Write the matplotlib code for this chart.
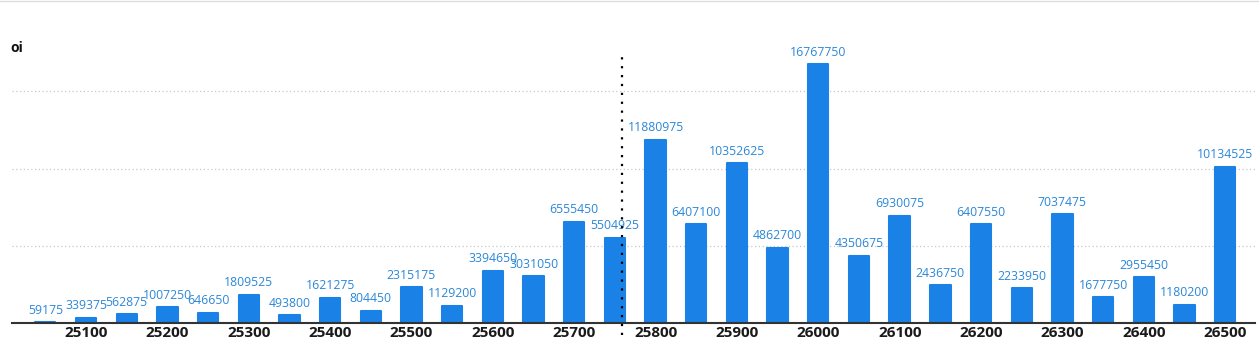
import matplotlib.pyplot as plt
from matplotlib.lines import Line2D

strikes = [25050, 25100, 25150, 25200, 25250, 25300, 25350, 25400, 25450, 25500,
           25550, 25600, 25650, 25700, 25750, 25800, 25850, 25900, 25950, 26000,
           26050, 26100, 26150, 26200, 26250, 26300, 26350, 26400, 26450, 26500]
oi = [59175, 339375, 562875, 1007250, 646650, 1809525, 493800, 1621275, 804450, 2315175,
      1129200, 3394650, 3031050, 6555450, 5504925, 11880975, 6407100, 10352625, 4862700, 16767750,
      4350675, 6930075, 2436750, 6407550, 2233950, 7037475, 1677750, 2955450, 1180200, 10134525]
tick_strikes = list(range(25100, 26501, 100))
spot = 25759

bar_color = '#1a82e6'
label_color = '#2b87d8'

fig = plt.figure(figsize=(12.59, 3.45), dpi=100)
ax = fig.add_axes([0.0095, 0.0638, 0.9875, 0.895])

ax.bar(strikes, oi, width=25, color=bar_color, edgecolor=bar_color,
       linewidth=1.5, joinstyle='round', zorder=3)

for x, v in zip(strikes, oi):
    ax.annotate(str(v), (x, v), xytext=(0, 4), textcoords='offset points',
                ha='center', va='bottom', color=label_color,
                fontsize=8.8, family='Open Sans', zorder=5)

ax.set_xlim(25009, 26537)
ax.set_ylim(0, 20e6)
ax.set_yticks([5e6, 10e6, 15e6])
ax.set_yticklabels([])
ax.tick_params(axis='y', length=0)
ax.grid(axis='y', linestyle=(0, (1, 2)), color='#c8c8c8', linewidth=0.9, zorder=0)

ax.set_xticks(tick_strikes)
ax.set_xticklabels([str(t) for t in tick_strikes], fontsize=11,
                   fontweight='bold', family='Open Sans', color='#1a1a1a')
ax.tick_params(axis='x', length=0, pad=2)

for s in ['top', 'right', 'left']:
    ax.spines[s].set_visible(False)
ax.spines['bottom'].set_color('#333333')
ax.spines['bottom'].set_linewidth(1.5)
ax.spines['bottom'].set_zorder(4)

# spot line
ax.plot([spot, spot], [-0.04, 0.878], transform=ax.get_xaxis_transform(),
        linestyle=(0, (1, 3)), color='black', linewidth=1.6, clip_on=False, zorder=6)

fig.text(0.008, 0.862, 'oi', fontsize=10, fontweight='bold', family='Open Sans',
         color='#111111', va='center')

fig.add_artist(Line2D([0, 1], [0.998, 0.998], color='#dddddd', linewidth=1))

fig.savefig('out.png', dpi=100)
